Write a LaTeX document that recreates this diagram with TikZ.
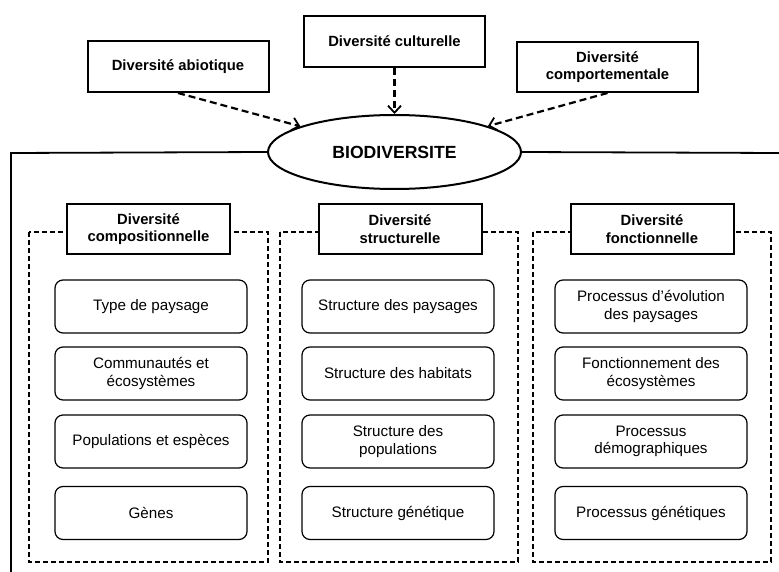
\documentclass[tikz,border=0pt]{standalone}
\usepackage{fontspec}
\setmainfont{Liberation Sans}
\usetikzlibrary{arrows.meta,shapes.geometric}
\begin{document}
\begin{tikzpicture}[x=1pt,y=-1pt,
  topbox/.style={draw,line width=2pt,fill=white,minimum width=181pt,minimum height=51pt,inner sep=0pt,align=center,font=\bfseries\fontsize{14.8}{17.5}\selectfont},
  headbox/.style={draw,line width=2pt,fill=white,minimum width=163pt,minimum height=50pt,inner sep=0pt,align=center,font=\bfseries\fontsize{14.8}{17.5}\selectfont},
  itembox/.style={draw,line width=1.2pt,rounded corners=8pt,minimum width=192pt,minimum height=53pt,inner sep=0pt,align=center,font=\fontsize{15.2}{17.5}\selectfont},
  colbox/.style={draw,line width=1.8pt,dash pattern=on 5pt off 3pt},
  frame/.style={line width=1.8pt},
  infl/.style={line width=2.2pt,dash pattern=on 7pt off 4pt,-{Straight Barb[length=7pt,width=13pt,line width=1.8pt]}}
]
\useasboundingbox (0,0) rectangle (779,572);

% outer frame and ellipse
\node[draw,ellipse,line width=2pt,fill=white,minimum width=253pt,minimum height=74pt,inner sep=0pt,font=\bfseries\fontsize{17.6}{20}\selectfont] (bio) at (394.5,152) {BIODIVERSITE};
\coordinate (fl) at (11,153);
\coordinate (fb) at (11,572);
\coordinate (fr) at (779,153);
\draw[frame] (bio.west) -- (fl) -- (fb);
\draw[frame] (bio.east) -- (fr);

% top boxes
\node[topbox] (abio) at (178,66.5) {Diversité abiotique};
\node[topbox] (cult) at (394.5,41.5) {Diversité culturelle};
\node[topbox,minimum height=50pt] (comp) at (607.5,67) {Diversité\\comportementale};

\draw[infl] (abio.south) -- (bio);
\draw[infl] (cult.south) -- (bio.north);
\draw[infl] (comp.south) -- (bio);

% dashed columns
\draw[colbox] (29,232) rectangle (268,562);
\draw[colbox] (280,232) rectangle (518,562);
\draw[colbox] (533,232) rectangle (771,562);

\node[headbox] (h1) at (148.5,229) {Diversité\\compositionnelle};
\node[headbox] (h2) at (400,229) {Diversité\\structurelle};
\node[headbox] (h3) at (652,229) {Diversité\\fonctionnelle};

% items column 1
\node[itembox] (a1) at (151,306.5) {Type de paysage};
\node[itembox] (a2) at (151,373.5) {Communautés et\\écosystèmes};
\node[itembox] (a3) at (151,441.5) {Populations et espèces};
\node[itembox] (a4) at (151,513) {Gènes};

% items column 2
\node[itembox] (b1) at (398,306.5) {Structure des paysages};
\node[itembox] (b2) at (398,373.5) {Structure des habitats};
\node[itembox] (b3) at (398,441.5) {Structure des\\populations};
\node[itembox] (b4) at (398,513) {Structure génétique};

% items column 3
\node[itembox] (c1) at (651,306.5) {Processus d’évolution\\des paysages};
\node[itembox] (c2) at (651,373.5) {Fonctionnement des\\écosystèmes};
\node[itembox] (c3) at (651,441.5) {Processus\\démographiques};
\node[itembox] (c4) at (651,513) {Processus génétiques};
\end{tikzpicture}
\end{document}
